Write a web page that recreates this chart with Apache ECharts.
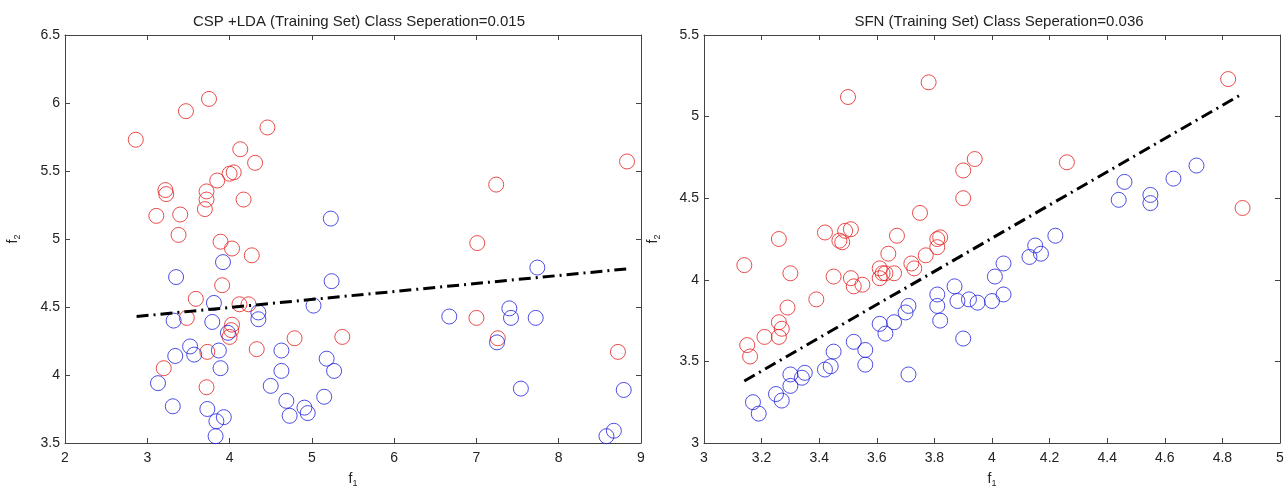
<!DOCTYPE html>
<html>
<head>
<meta charset="utf-8">
<script src="https://cdn.jsdelivr.net/npm/echarts@6/dist/echarts.min.js"></script>
<style>
  html, body { margin: 0; padding: 0; background: #fff; }
  #chart { width: 1287px; height: 488px; }
</style>
</head>
<body>
<div id="chart"></div>
<script>
// left panel: CSP + LDA
const cspTitle = 'CSP +LDA (Training Set) Class Seperation=0.015';
const cspXTicks = [2, 9, 1];
const cspYTicks = [3.5, 6.5, 0.5];
const cspRed = [
  [2.86, 5.73], [3.47, 5.94], [3.75, 6.03], [4.46, 5.82], [4.13, 5.66], [4.31, 5.56],
  [4.05, 5.49], [4.00, 5.48], [3.85, 5.43], [3.22, 5.36], [3.23, 5.33], [3.72, 5.35],
  [3.72, 5.29], [3.70, 5.22], [4.17, 5.29], [3.11, 5.17], [3.40, 5.18], [3.38, 5.03],
  [7.24, 5.40], [8.83, 5.57], [3.89, 4.98], [4.03, 4.93], [4.27, 4.88], [7.01, 4.97],
  [3.91, 4.66], [3.59, 4.56], [4.12, 4.52], [4.23, 4.52], [3.48, 4.42], [4.03, 4.37],
  [4.02, 4.33], [4.00, 4.28], [4.79, 4.27], [5.37, 4.28], [4.33, 4.19], [3.73, 4.17],
  [3.20, 4.05], [3.72, 3.91], [7.00, 4.42], [7.26, 4.27], [8.72, 4.17]
];
const cspBlue = [
  [5.23, 5.15], [3.92, 4.83], [3.35, 4.72], [5.24, 4.69], [7.74, 4.79], [5.02, 4.51],
  [3.81, 4.53], [4.35, 4.46], [4.35, 4.41], [3.32, 4.40], [3.79, 4.39], [6.67, 4.43],
  [7.40, 4.49], [7.42, 4.42], [7.72, 4.42], [7.25, 4.24], [3.98, 4.31], [3.52, 4.21],
  [3.57, 4.15], [3.87, 4.18], [3.34, 4.14], [4.63, 4.18], [5.18, 4.12], [5.27, 4.03],
  [4.63, 4.03], [3.89, 4.05], [3.13, 3.94], [4.50, 3.92], [7.54, 3.90], [8.79, 3.89],
  [5.15, 3.84], [3.31, 3.77], [3.73, 3.75], [4.69, 3.81], [4.91, 3.76], [4.95, 3.72],
  [4.73, 3.70], [3.84, 3.66], [3.93, 3.69], [3.83, 3.55], [8.58, 3.55], [8.67, 3.59]
];
const cspBoundary = [[2.87, 4.43], [8.82, 4.78]];

// right panel: SFN
const sfnTitle = 'SFN (Training Set) Class Seperation=0.036';
const sfnXTicks = [3, 5, 0.2];
const sfnYTicks = [3, 5.5, 0.5];
const sfnRed = [
  [3.50, 5.12], [3.78, 5.21], [4.82, 5.23], [4.87, 4.44], [3.94, 4.74], [3.90, 4.67],
  [4.26, 4.72], [3.90, 4.50], [3.75, 4.41], [3.42, 4.29], [3.49, 4.30], [3.51, 4.31],
  [3.47, 4.24], [3.48, 4.23], [3.26, 4.25], [3.67, 4.27], [3.64, 4.16], [3.81, 4.25],
  [3.82, 4.26], [3.81, 4.20], [3.77, 4.15], [3.72, 4.10], [3.73, 4.07], [3.14, 4.09],
  [3.30, 4.04], [3.45, 4.02], [3.51, 4.01], [3.52, 3.96], [3.55, 3.97], [3.61, 4.07],
  [3.62, 4.04], [3.63, 4.04], [3.61, 4.01], [3.66, 4.04], [3.39, 3.88], [3.29, 3.83],
  [3.26, 3.74], [3.27, 3.70], [3.26, 3.65], [3.21, 3.65], [3.15, 3.60], [3.16, 3.53]
];
const sfnBlue = [
  [4.71, 4.70], [4.63, 4.62], [4.46, 4.60], [4.44, 4.49], [4.55, 4.52], [4.55, 4.47],
  [4.22, 4.27], [4.15, 4.21], [4.17, 4.16], [4.13, 4.14], [4.04, 4.10], [4.01, 4.02],
  [4.04, 3.91], [4.00, 3.87], [3.95, 3.86], [3.92, 3.88], [3.87, 3.96], [3.88, 3.87],
  [3.81, 3.91], [3.81, 3.84], [3.82, 3.75], [3.90, 3.64], [3.71, 3.84], [3.70, 3.80],
  [3.66, 3.74], [3.61, 3.73], [3.63, 3.67], [3.52, 3.62], [3.56, 3.57], [3.56, 3.48],
  [3.45, 3.56], [3.44, 3.47], [3.42, 3.45], [3.71, 3.42], [3.30, 3.42], [3.35, 3.43],
  [3.34, 3.40], [3.30, 3.35], [3.25, 3.30], [3.27, 3.26], [3.17, 3.25], [3.19, 3.18]
];
const sfnBoundary = [[3.14, 3.38], [4.86, 5.13]];

const RED = '#e3201f';
const BLUE = '#2222dd';
const AXIS = '#444';
const FONT = 'Liberation Sans, Arial, sans-serif';

const chart = echarts.init(document.getElementById('chart'), null, { renderer: 'canvas' });

function subName(letter, idx) {
  return '{f|' + letter + '}{s|' + idx + '}';
}
const subRich = {
  f: { fontSize: 14, fontFamily: FONT, color: '#222' },
  s: { fontSize: 9, fontFamily: FONT, color: '#222', padding: [9, 0, 0, 0] }
};

function xAxes(gi, t) {
  const base = {
    gridIndex: gi, type: 'value', min: t[0], max: t[1], interval: t[2],
    axisLine: { lineStyle: { color: AXIS, width: 1 } },
    axisTick: { inside: true, length: 5, lineStyle: { color: AXIS } },
    splitLine: { show: false }
  };
  return [
    Object.assign({}, base, {
      position: 'bottom',
      axisLabel: { color: '#222', fontSize: 14, fontFamily: FONT, margin: 8,
        formatter: v => +v.toFixed(1) + '' },
      name: subName('f', 1), nameLocation: 'middle', nameGap: 27,
      nameTextStyle: { rich: subRich }
    }),
    Object.assign({}, base, { position: 'top', axisLabel: { show: false } })
  ];
}
function yAxes(gi, t, gap) {
  const base = {
    gridIndex: gi, type: 'value', min: t[0], max: t[1], interval: t[2],
    axisLine: { lineStyle: { color: AXIS, width: 1 } },
    axisTick: { inside: true, length: 5, lineStyle: { color: AXIS } },
    splitLine: { show: false }
  };
  return [
    Object.assign({}, base, {
      position: 'left',
      axisLabel: { color: '#222', fontSize: 14, fontFamily: FONT, margin: 5 },
      name: subName('f', 2), nameLocation: 'middle', nameGap: gap, nameRotate: 90,
      nameTextStyle: { rich: subRich }
    }),
    Object.assign({}, base, { position: 'right', axisLabel: { show: false } })
  ];
}

function circles(data, color, xi, yi) {
  return {
    type: 'scatter', data: data, xAxisIndex: xi, yAxisIndex: yi,
    symbol: 'circle', symbolSize: 15, silent: true,
    itemStyle: { color: 'rgba(0,0,0,0)', borderColor: color, borderWidth: 1 }
  };
}
function boundary(data, xi, yi) {
  return {
    type: 'line', data: data, xAxisIndex: xi, yAxisIndex: yi,
    symbol: 'none', silent: true, z: 5,
    lineStyle: { color: '#000', width: 3, type: [12, 5, 2, 5] }
  };
}

chart.setOption({
  animation: false,
  backgroundColor: '#fff',
  title: [
    { text: cspTitle, left: 354, top: 9, textAlign: 'center',
      textStyle: { fontSize: 15, fontWeight: 'normal', color: '#222', fontFamily: FONT } },
    { text: sfnTitle, left: 994, top: 9, textAlign: 'center',
      textStyle: { fontSize: 15, fontWeight: 'normal', color: '#222', fontFamily: FONT } }
  ],
  grid: [
    { left: 65, right: 646, top: 35, bottom: 45, show: false, outerBoundsMode: 'none' },
    { left: 704, right: 7, top: 35, bottom: 45, show: false, outerBoundsMode: 'none' }
  ],
  xAxis: [...xAxes(0, cspXTicks), ...xAxes(1, sfnXTicks)],
  yAxis: [...yAxes(0, cspYTicks, 43), ...yAxes(1, sfnYTicks, 42)],
  series: [
    circles(cspRed, RED, 0, 0),
    circles(cspBlue, BLUE, 0, 0),
    boundary(cspBoundary, 0, 0),
    circles(sfnRed, RED, 2, 2),
    circles(sfnBlue, BLUE, 2, 2),
    boundary(sfnBoundary, 2, 2)
  ]
});
</script>
</body>
</html>
